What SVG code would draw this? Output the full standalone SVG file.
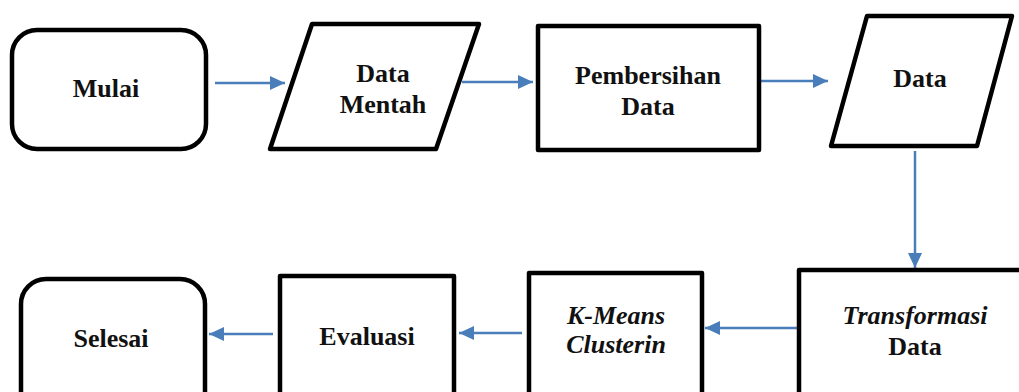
<svg xmlns="http://www.w3.org/2000/svg" width="1019" height="392" viewBox="0 0 1019 392">
  <style>
    .shape { fill: #ffffff; stroke: #000000; stroke-width: 4.5; stroke-linejoin: round; }
    .label { font-family: "Liberation Serif", "Times New Roman", serif; font-size: 26px; font-weight: bold; fill: #111111; text-anchor: middle; }
    .it { font-style: italic; }
    .flow { fill: none; stroke: #4A7EBB; stroke-width: 2.5; }
  </style>
  <defs>
    <marker id="arrow" markerUnits="userSpaceOnUse" markerWidth="16" markerHeight="14" refX="15" refY="7" orient="auto">
      <path d="M0,0 L15,7 L0,14 z" fill="#4A7EBB"/>
    </marker>
  </defs>
  <rect width="1019" height="392" fill="#ffffff"/>

  <g id="connectors">
    <line class="flow" x1="215" y1="83" x2="285" y2="83" marker-end="url(#arrow)"/>
    <line class="flow" x1="462" y1="82" x2="533" y2="82" marker-end="url(#arrow)"/>
    <line class="flow" x1="761" y1="81" x2="828" y2="81" marker-end="url(#arrow)"/>
    <line class="flow" x1="915" y1="151" x2="915" y2="268" marker-end="url(#arrow)"/>
    <line class="flow" x1="800" y1="328" x2="705" y2="328" marker-end="url(#arrow)"/>
    <line class="flow" x1="522" y1="333" x2="459" y2="333" marker-end="url(#arrow)"/>
    <line class="flow" x1="273" y1="334" x2="209" y2="334" marker-end="url(#arrow)"/>
  </g>

  <g id="mulai">
    <rect class="shape" x="12" y="30" width="194" height="119" rx="25" ry="25"/>
    <text class="label" x="106" y="97">Mulai</text>
  </g>

  <g id="data-mentah">
    <polygon class="shape" points="312,24 479,24 436,149 270,149"/>
    <text class="label" x="383" y="82">Data</text>
    <text class="label" x="383" y="113">Mentah</text>
  </g>

  <g id="pembersihan-data">
    <rect class="shape" x="538" y="26" width="221" height="124"/>
    <text class="label" x="648" y="84">Pembersihan</text>
    <text class="label" x="648" y="115">Data</text>
  </g>

  <g id="data">
    <polygon class="shape" points="867,16 1012,16 977,146 831,146"/>
    <text class="label" x="920" y="87">Data</text>
  </g>

  <g id="transformasi-data">
    <rect class="shape" x="799" y="270" width="240" height="150"/>
    <text class="label it" x="915" y="324">Transformasi</text>
    <text class="label" x="915" y="355">Data</text>
  </g>

  <g id="k-means">
    <rect class="shape" x="529" y="273" width="173" height="150"/>
    <text class="label it" x="616" y="324">K-Means</text>
    <text class="label it" x="616" y="353">Clusterin</text>
  </g>

  <g id="evaluasi">
    <rect class="shape" x="280" y="276" width="174" height="150"/>
    <text class="label" x="367" y="345">Evaluasi</text>
  </g>

  <g id="selesai">
    <rect class="shape" x="21" y="279" width="184" height="150" rx="25" ry="25"/>
    <text class="label" x="111" y="347">Selesai</text>
  </g>
</svg>
